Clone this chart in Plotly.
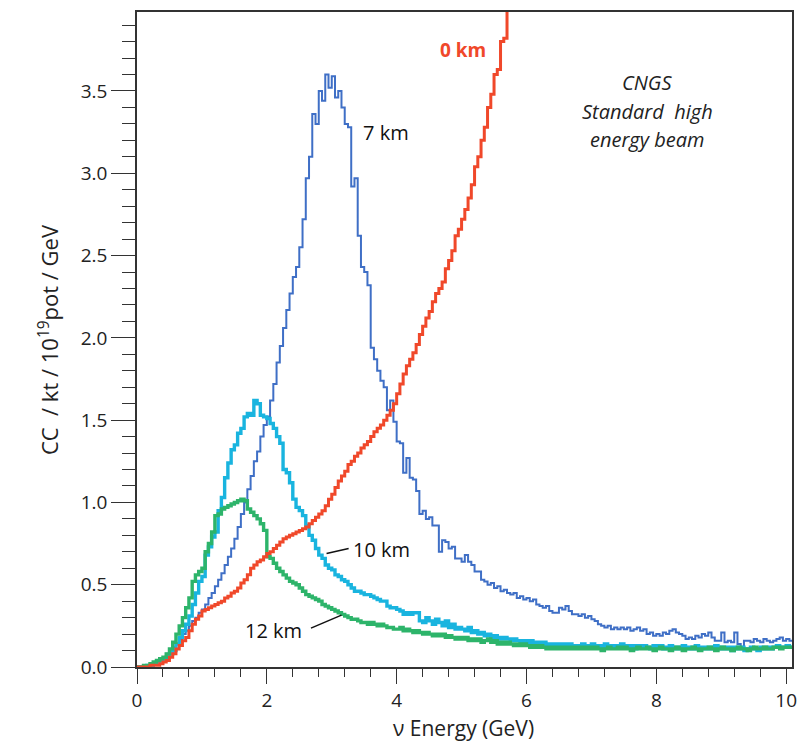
import plotly.graph_objects as go

# ---------------- data (histograms, 0.05 GeV bins starting at 0) ----------------
BIN_WIDTH_GEV = 0.05

cc_7km = [
    0.00, 0.00, 0.01, 0.01, 0.02, 0.03, 0.04, 0.05, 0.06, 0.08, 0.10, 0.12, 0.14, 0.17, 0.20, 0.22, 0.25, 0.28, 0.30, 0.33,
    0.35, 0.38, 0.42, 0.45, 0.49, 0.53, 0.57, 0.62, 0.67, 0.72, 0.78, 0.85, 0.93, 1.00, 1.08, 1.16, 1.25, 1.31, 1.40, 1.47,
    1.52, 1.62, 1.72, 1.85, 1.95, 2.06, 2.17, 2.27, 2.37, 2.43, 2.55, 2.72, 2.97, 3.10, 3.36, 3.30, 3.50, 3.44, 3.60, 3.52,
    3.59, 3.46, 3.50, 3.40, 3.30, 3.28, 2.92, 2.97, 2.62, 2.43, 2.40, 2.32, 1.94, 1.87, 1.80, 1.74, 1.70, 1.56, 1.62, 1.49,
    1.37, 1.36, 1.18, 1.27, 1.15, 1.14, 1.07, 0.93, 0.95, 0.90, 0.91, 0.86, 0.86, 0.70, 0.77, 0.76, 0.72, 0.73, 0.66, 0.66,
    0.64, 0.68, 0.64, 0.62, 0.58, 0.58, 0.53, 0.52, 0.50, 0.51, 0.48, 0.49, 0.46, 0.47, 0.45, 0.44, 0.45, 0.42, 0.43, 0.41,
    0.42, 0.40, 0.41, 0.38, 0.37, 0.36, 0.37, 0.34, 0.33, 0.33, 0.36, 0.35, 0.37, 0.34, 0.32, 0.32, 0.31, 0.32, 0.30, 0.31,
    0.29, 0.28, 0.26, 0.25, 0.24, 0.25, 0.23, 0.24, 0.23, 0.24, 0.23, 0.24, 0.22, 0.23, 0.24, 0.22, 0.23, 0.20, 0.21, 0.19,
    0.20, 0.19, 0.21, 0.20, 0.22, 0.23, 0.21, 0.20, 0.19, 0.17, 0.18, 0.17, 0.19, 0.18, 0.20, 0.19, 0.21, 0.18, 0.16, 0.16,
    0.21, 0.15, 0.16, 0.15, 0.21, 0.14, 0.11, 0.16, 0.16, 0.15, 0.17, 0.16, 0.15, 0.17, 0.16, 0.15, 0.16, 0.17, 0.18, 0.16,
    0.17, 0.16,
]

cc_10km = [
    0.00, 0.00, 0.00, 0.01, 0.01, 0.02, 0.03, 0.04, 0.05, 0.06, 0.08, 0.10, 0.14, 0.18, 0.22, 0.26, 0.31, 0.38, 0.45, 0.52,
    0.55, 0.68, 0.73, 0.79, 0.82, 0.95, 1.03, 1.15, 1.24, 1.32, 1.35, 1.42, 1.45, 1.52, 1.54, 1.53, 1.62, 1.60, 1.53, 1.52,
    1.51, 1.48, 1.45, 1.40, 1.36, 1.20, 1.18, 1.12, 1.02, 0.97, 0.95, 0.92, 0.86, 0.80, 0.77, 0.72, 0.68, 0.66, 0.62, 0.60,
    0.59, 0.56, 0.55, 0.53, 0.52, 0.50, 0.48, 0.46, 0.46, 0.45, 0.44, 0.44, 0.43, 0.42, 0.41, 0.40, 0.40, 0.37, 0.36, 0.36,
    0.35, 0.34, 0.32, 0.33, 0.32, 0.33, 0.33, 0.28, 0.27, 0.30, 0.28, 0.26, 0.29, 0.27, 0.25, 0.28, 0.24, 0.26, 0.23, 0.24,
    0.23, 0.22, 0.24, 0.21, 0.22, 0.20, 0.21, 0.19, 0.20, 0.18, 0.19, 0.18, 0.17, 0.18, 0.17, 0.16, 0.17, 0.16, 0.15, 0.16,
    0.15, 0.16, 0.14, 0.15, 0.14, 0.15, 0.13, 0.14, 0.13, 0.14, 0.13, 0.14, 0.12, 0.14, 0.13, 0.12, 0.13, 0.14, 0.12, 0.13,
    0.14, 0.12, 0.13, 0.12, 0.14, 0.13, 0.12, 0.13, 0.12, 0.14, 0.13, 0.12, 0.13, 0.11, 0.13, 0.12, 0.13, 0.12, 0.11, 0.13,
    0.12, 0.13, 0.11, 0.12, 0.13, 0.12, 0.11, 0.12, 0.13, 0.11, 0.12, 0.11, 0.13, 0.12, 0.11, 0.12, 0.11, 0.12, 0.13, 0.11,
    0.12, 0.11, 0.12, 0.10, 0.12, 0.11, 0.12, 0.10, 0.11, 0.12, 0.11, 0.10, 0.12, 0.11, 0.12, 0.11, 0.12, 0.13, 0.12, 0.12,
    0.13, 0.12,
]

cc_12km = [
    0.00, 0.00, 0.01, 0.01, 0.02, 0.03, 0.04, 0.05, 0.06, 0.08, 0.11, 0.15, 0.20, 0.25, 0.30, 0.36, 0.42, 0.52, 0.56, 0.58,
    0.60, 0.70, 0.75, 0.82, 0.92, 0.93, 0.96, 0.97, 0.98, 0.99, 1.00, 1.01, 1.02, 1.01, 0.96, 0.94, 0.92, 0.90, 0.87, 0.83,
    0.67, 0.66, 0.63, 0.60, 0.58, 0.56, 0.54, 0.52, 0.51, 0.50, 0.48, 0.46, 0.44, 0.43, 0.42, 0.41, 0.40, 0.38, 0.37, 0.36,
    0.35, 0.34, 0.33, 0.32, 0.31, 0.30, 0.29, 0.29, 0.28, 0.27, 0.27, 0.26, 0.27, 0.26, 0.25, 0.26, 0.25, 0.24, 0.24, 0.23,
    0.23, 0.24, 0.22, 0.23, 0.22, 0.21, 0.22, 0.21, 0.20, 0.21, 0.20, 0.19, 0.20, 0.19, 0.20, 0.18, 0.19, 0.18, 0.17, 0.18,
    0.17, 0.18, 0.16, 0.17, 0.16, 0.17, 0.15, 0.16, 0.17, 0.15, 0.16, 0.14, 0.15, 0.14, 0.15, 0.14, 0.13, 0.14, 0.13, 0.14,
    0.13, 0.12, 0.13, 0.12, 0.13, 0.12, 0.11, 0.12, 0.11, 0.12, 0.11, 0.12, 0.11, 0.12, 0.11, 0.12, 0.11, 0.12, 0.11, 0.12,
    0.11, 0.12, 0.11, 0.10, 0.11, 0.12, 0.11, 0.11, 0.12, 0.11, 0.12, 0.11, 0.10, 0.11, 0.12, 0.11, 0.11, 0.12, 0.11, 0.10,
    0.11, 0.12, 0.11, 0.11, 0.10, 0.11, 0.12, 0.11, 0.10, 0.11, 0.11, 0.12, 0.11, 0.10, 0.11, 0.11, 0.12, 0.11, 0.10, 0.11,
    0.12, 0.11, 0.11, 0.10, 0.11, 0.12, 0.11, 0.11, 0.10, 0.11, 0.12, 0.11, 0.11, 0.12, 0.11, 0.11, 0.12, 0.12, 0.11, 0.12,
    0.12, 0.12,
]

cc_0km = [
    0.00, 0.00, 0.00, 0.00, 0.01, 0.01, 0.01, 0.02, 0.03, 0.04, 0.06, 0.08, 0.11, 0.13, 0.16, 0.18, 0.22, 0.26, 0.29, 0.31,
    0.34, 0.35, 0.36, 0.37, 0.38, 0.39, 0.40, 0.42, 0.43, 0.45, 0.46, 0.48, 0.51, 0.53, 0.56, 0.60, 0.62, 0.64, 0.65, 0.67,
    0.69, 0.70, 0.72, 0.74, 0.76, 0.78, 0.79, 0.80, 0.81, 0.82, 0.83, 0.84, 0.85, 0.87, 0.89, 0.91, 0.93, 0.95, 0.98, 1.02,
    1.05, 1.09, 1.13, 1.16, 1.19, 1.23, 1.25, 1.28, 1.30, 1.33, 1.35, 1.37, 1.40, 1.43, 1.45, 1.47, 1.50, 1.53, 1.56, 1.60,
    1.66, 1.72, 1.78, 1.83, 1.87, 1.91, 1.96, 2.02, 2.07, 2.12, 2.16, 2.22, 2.27, 2.30, 2.34, 2.42, 2.47, 2.53, 2.62, 2.66,
    2.72, 2.78, 2.85, 2.93, 3.04, 3.10, 3.20, 3.28, 3.40, 3.48, 3.60, 3.63, 3.80, 3.82, 4.10, 4.30, 4.50,
]

y_tick_values = [0.0, 0.5, 1.0, 1.5, 2.0, 2.5, 3.0, 3.5]
x_tick_values = [0, 2, 4, 6, 8, 10]

# ---------------- styling ----------------
FONT = "Open Sans"
C_BLUE = "#3f6fc6"
C_CYAN = "#19b4df"
C_GREEN = "#2db46a"
C_RED = "#f0482a"


def step_xy(values):
    n = len(values)
    xs = [round(i * BIN_WIDTH_GEV, 4) for i in range(n + 1)]
    ys = list(values) + [values[-1]]
    return xs, ys


fig = go.Figure()
for vals, col, w, name in [
    (cc_7km, C_BLUE, 2.0, "7 km"),
    (cc_10km, C_CYAN, 3.4, "10 km"),
    (cc_12km, C_GREEN, 3.4, "12 km"),
    (cc_0km, C_RED, 3.0, "0 km"),
]:
    xs, ys = step_xy(vals)
    fig.add_trace(go.Scatter(x=xs, y=ys, mode="lines", name=name,
                             line=dict(color=col, width=w, shape="hv"),
                             showlegend=False, hoverinfo="skip"))

axis_common = dict(showline=True, linecolor="#333333", linewidth=1.5, mirror=True,
                   showgrid=False, zeroline=False, ticks="outside", tickcolor="#333333",
                   tickwidth=1.2, tickfont=dict(family=FONT, size=19, color="#222222"))

fig.update_xaxes(range=[0, 10.09], tickvals=x_tick_values, ticklen=15,
                 minor=dict(dtick=0.4, tick0=0, ticks="outside", ticklen=8,
                            tickcolor="#333333", tickwidth=1.2),
                 **axis_common)
fig.update_yaxes(range=[0, 3.98], tickvals=y_tick_values, tickformat=".1f", ticklen=24,
                 minor=dict(dtick=0.1, tick0=0, ticks="outside", ticklen=13,
                            tickcolor="#333333", tickwidth=1.2),
                 **axis_common)

LBL = 20
anns = [
    dict(x=3.84, y=3.25, text="7 km", font=dict(size=LBL, color="#111111")),
    dict(x=5.02, y=3.75, text="<b>0 km</b>", font=dict(size=19, color=C_RED)),
    dict(x=7.86, y=3.55, text="<i>CNGS</i>", font=dict(size=LBL, color="#222222")),
    dict(x=7.86, y=3.375, text="<i>Standard  high</i>", font=dict(size=LBL, color="#222222")),
    dict(x=7.86, y=3.205, text="<i>energy beam</i>", font=dict(size=LBL, color="#222222")),
    dict(x=3.29, y=0.715, text="10 km", xanchor="left", font=dict(size=LBL, color="#111111")),
    dict(x=2.10, y=0.22, text="12 km", font=dict(size=LBL, color="#111111")),
]
for a in anns:
    a.setdefault("xanchor", "center")
    fig.add_annotation(xref="x", yref="y", showarrow=False, yanchor="middle",
                       font_family=FONT, **a)

# axis titles
fig.add_annotation(xref="paper", yref="paper", x=0.4985, y=-0.093, showarrow=False,
                   text="ν Energy (GeV)", font=dict(family=FONT, size=21, color="#222222"),
                   xanchor="center", yanchor="middle")
fig.add_annotation(xref="paper", yref="paper", x=-0.135, y=0.5, showarrow=False,
                   text="CC  / kt / 10<sup>19</sup>pot / GeV", textangle=-90,
                   font=dict(family=FONT, size=22, color="#222222"),
                   xanchor="center", yanchor="middle")

# leader lines
fig.add_shape(type="line", xref="x", yref="y", x0=2.92, y0=0.69, x1=3.26, y1=0.72,
              line=dict(color="#111111", width=1.5))
fig.add_shape(type="line", xref="x", yref="y", x0=2.68, y0=0.236, x1=3.15, y1=0.315,
              line=dict(color="#111111", width=1.5))

fig.update_layout(width=807, height=745, margin=dict(l=137, r=12, t=10, b=78),
                  paper_bgcolor="white", plot_bgcolor="white",
                  font=dict(family=FONT))

fig.write_html("out.html")
